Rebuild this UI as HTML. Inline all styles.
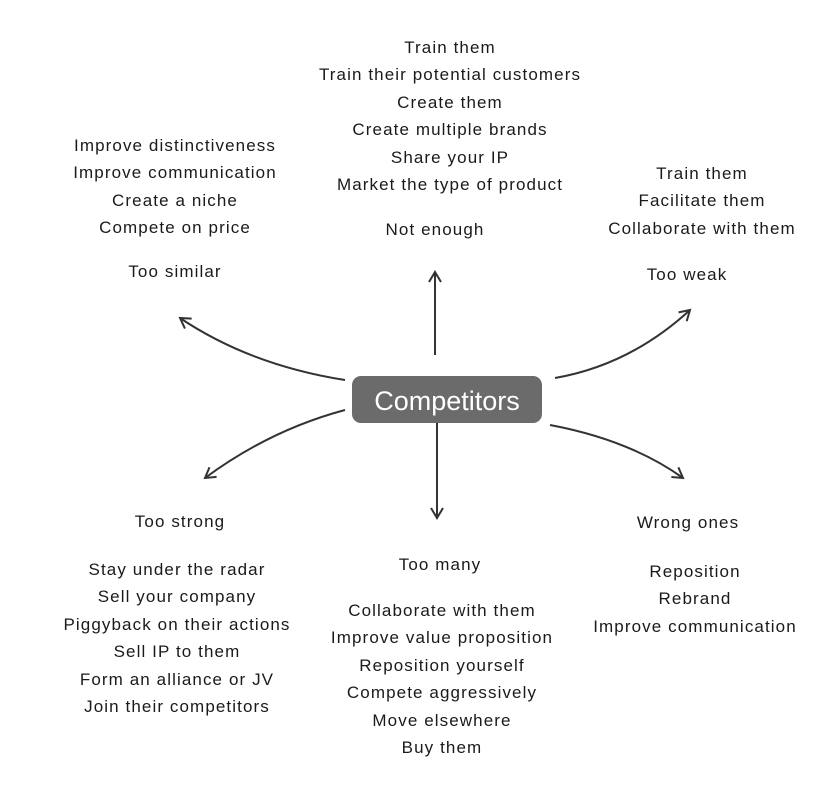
<!DOCTYPE html>
<html><head><meta charset="utf-8"><style>
body{margin:0;width:815px;height:795px;background:#fff;position:relative;overflow:hidden;font-family:"Liberation Sans",sans-serif;color:#1a1a1a}
.t,.h{font-size:17px;letter-spacing:1.1px}
.t{position:absolute;text-align:center;line-height:27.4px;white-space:nowrap;transform:translateX(-50%)}
.h{position:absolute;white-space:nowrap;transform:translate(-50%,-50%)}
</style></head><body>
<svg width="815" height="795" style="position:absolute;left:0;top:0">
<defs><marker id="a" markerWidth="14" markerHeight="14" refX="11" refY="7" orient="auto" markerUnits="userSpaceOnUse"><path d="M1,1 L11,7 L1,13" fill="none" stroke="#333" stroke-width="2"/></marker></defs>
<g fill="none" stroke="#333" stroke-width="2">
<path d="M435,355 L435,272" marker-end="url(#a)"/>
<path d="M437,420 L437,518" marker-end="url(#a)"/>
<path d="M345,380 Q250,365 180,318" marker-end="url(#a)"/>
<path d="M555,378 Q630,365 690,310" marker-end="url(#a)"/>
<path d="M345,410 Q270,430 205,478" marker-end="url(#a)"/>
<path d="M550,425 Q630,440 683,478" marker-end="url(#a)"/>
</g>
<rect x="352" y="376" width="190" height="47" rx="9" fill="#6b6b6b"/>
<text x="447" y="410" text-anchor="middle" font-family="Liberation Sans,sans-serif" font-size="27" fill="#fff">Competitors</text>
</svg>
<div class="t" style="left:450px;top:34px">Train them<br>Train their potential customers<br>Create them<br>Create multiple brands<br>Share your IP<br>Market the type of product</div>
<div class="h" style="left:435px;top:230px">Not enough</div>
<div class="t" style="left:175px;top:132px">Improve distinctiveness<br>Improve communication<br>Create a niche<br>Compete on price</div>
<div class="h" style="left:175px;top:272px">Too similar</div>
<div class="t" style="left:702px;top:160px">Train them<br>Facilitate them<br>Collaborate with them</div>
<div class="h" style="left:687px;top:275px">Too weak</div>
<div class="h" style="left:180px;top:522px">Too strong</div>
<div class="t" style="left:177px;top:556px">Stay under the radar<br>Sell your company<br>Piggyback on their actions<br>Sell IP to them<br>Form an alliance or JV<br>Join their competitors</div>
<div class="h" style="left:440px;top:565px">Too many</div>
<div class="t" style="left:442px;top:597px">Collaborate with them<br>Improve value proposition<br>Reposition yourself<br>Compete aggressively<br>Move elsewhere<br>Buy them</div>
<div class="h" style="left:688px;top:523px">Wrong ones</div>
<div class="t" style="left:695px;top:558px">Reposition<br>Rebrand<br>Improve communication</div>
</body></html>
